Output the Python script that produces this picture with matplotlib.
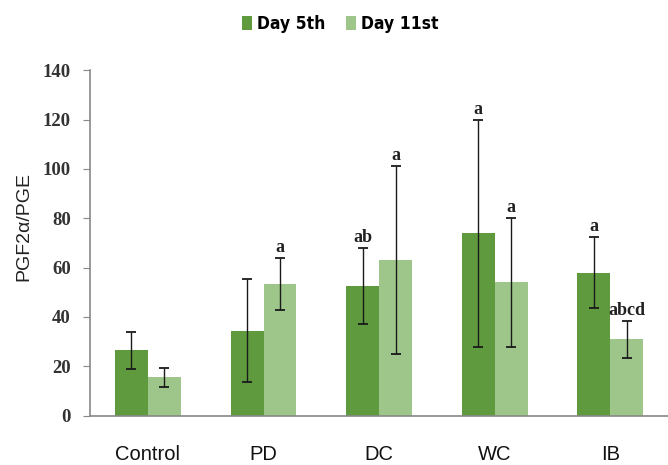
import matplotlib
matplotlib.use("Agg")
import matplotlib.pyplot as plt
import numpy as np

categories = ["Control", "PD", "DC", "WC", "IB"]
day5_mean = [26.5, 34.5, 52.5, 74, 58]
day5_err = [7.5, 21, 15.5, 46, 14.5]
day11_mean = [15.5, 53.5, 63, 54, 31]
day11_err = [4, 10.5, 38, 26, 7.5]
day5_labels = ["", "", "ab", "a", "a"]
day11_labels = ["", "a", "a", "a", "abcd"]
series_names = ["Day 5th", "Day 11st"]
yticks = [0, 20, 40, 60, 80, 100, 120, 140]

dark = "#5f9b3e"
light = "#9ec68a"

fig = plt.figure(figsize=(6.68, 4.65), dpi=100)
ax = fig.add_axes([0.135, 0.106, 0.865, 0.743])

x = np.arange(len(categories))
w = 0.285
b1 = ax.bar(x - w / 2, day5_mean, w, color=dark, label=series_names[0])
b2 = ax.bar(x + w / 2, day11_mean, w, color=light, label=series_names[1])
ax.errorbar(x - w / 2, day5_mean, yerr=day5_err, fmt="none", ecolor="#1a1a1a",
            elinewidth=1.0, capsize=3.3, capthick=1.3)
ax.errorbar(x + w / 2, day11_mean, yerr=day11_err, fmt="none", ecolor="#1a1a1a",
            elinewidth=1.0, capsize=3.3, capthick=1.3)

for xi, m, e, t in zip(x - w / 2, day5_mean, day5_err, day5_labels):
    if t:
        ax.text(xi, m + e + 0.8, t, ha="center", va="bottom", family="Liberation Serif",
                fontweight="bold", fontsize=13, color="#222222")
for xi, m, e, t in zip(x + w / 2, day11_mean, day11_err, day11_labels):
    if t:
        ax.text(xi, m + e + 0.8, t, ha="center", va="bottom", family="Liberation Serif",
                fontweight="bold", fontsize=13, color="#222222")

ax.set_xlim(-0.5, 4.5)
ax.set_ylim(0, 140)
ax.set_yticks(yticks)
ax.set_yticklabels([str(v) for v in yticks], family="Liberation Serif",
                   fontweight="bold", fontsize=13.5, color="#333333")
ax.set_xticks(x)
ax.set_xticklabels(categories, family="Liberation Sans", fontsize=14.5, color="#111111")
ax.tick_params(axis="x", length=0, pad=21)
ax.tick_params(axis="y", length=5, color="#888888", pad=9)
for s in ["top", "right"]:
    ax.spines[s].set_visible(False)
for s in ["left", "bottom"]:
    ax.spines[s].set_color("#888888")
    ax.spines[s].set_linewidth(1.2)
ax.set_ylabel("PGF2α/PGE", family="Liberation Sans", fontsize=14, color="#222222")
ax.yaxis.set_label_coords(-0.100, 0.548)

leg = fig.legend(handles=[b1, b2], loc="center", bbox_to_anchor=(0.509, 0.948), ncol=2,
                 frameon=False, handlelength=0.6, handleheight=0.85, handletextpad=0.25,
                 columnspacing=1.2,
                 prop={"family": "DejaVu Sans", "stretch": "condensed",
                       "weight": "bold", "size": 12.5})

fig.savefig("out.png", dpi=100)
